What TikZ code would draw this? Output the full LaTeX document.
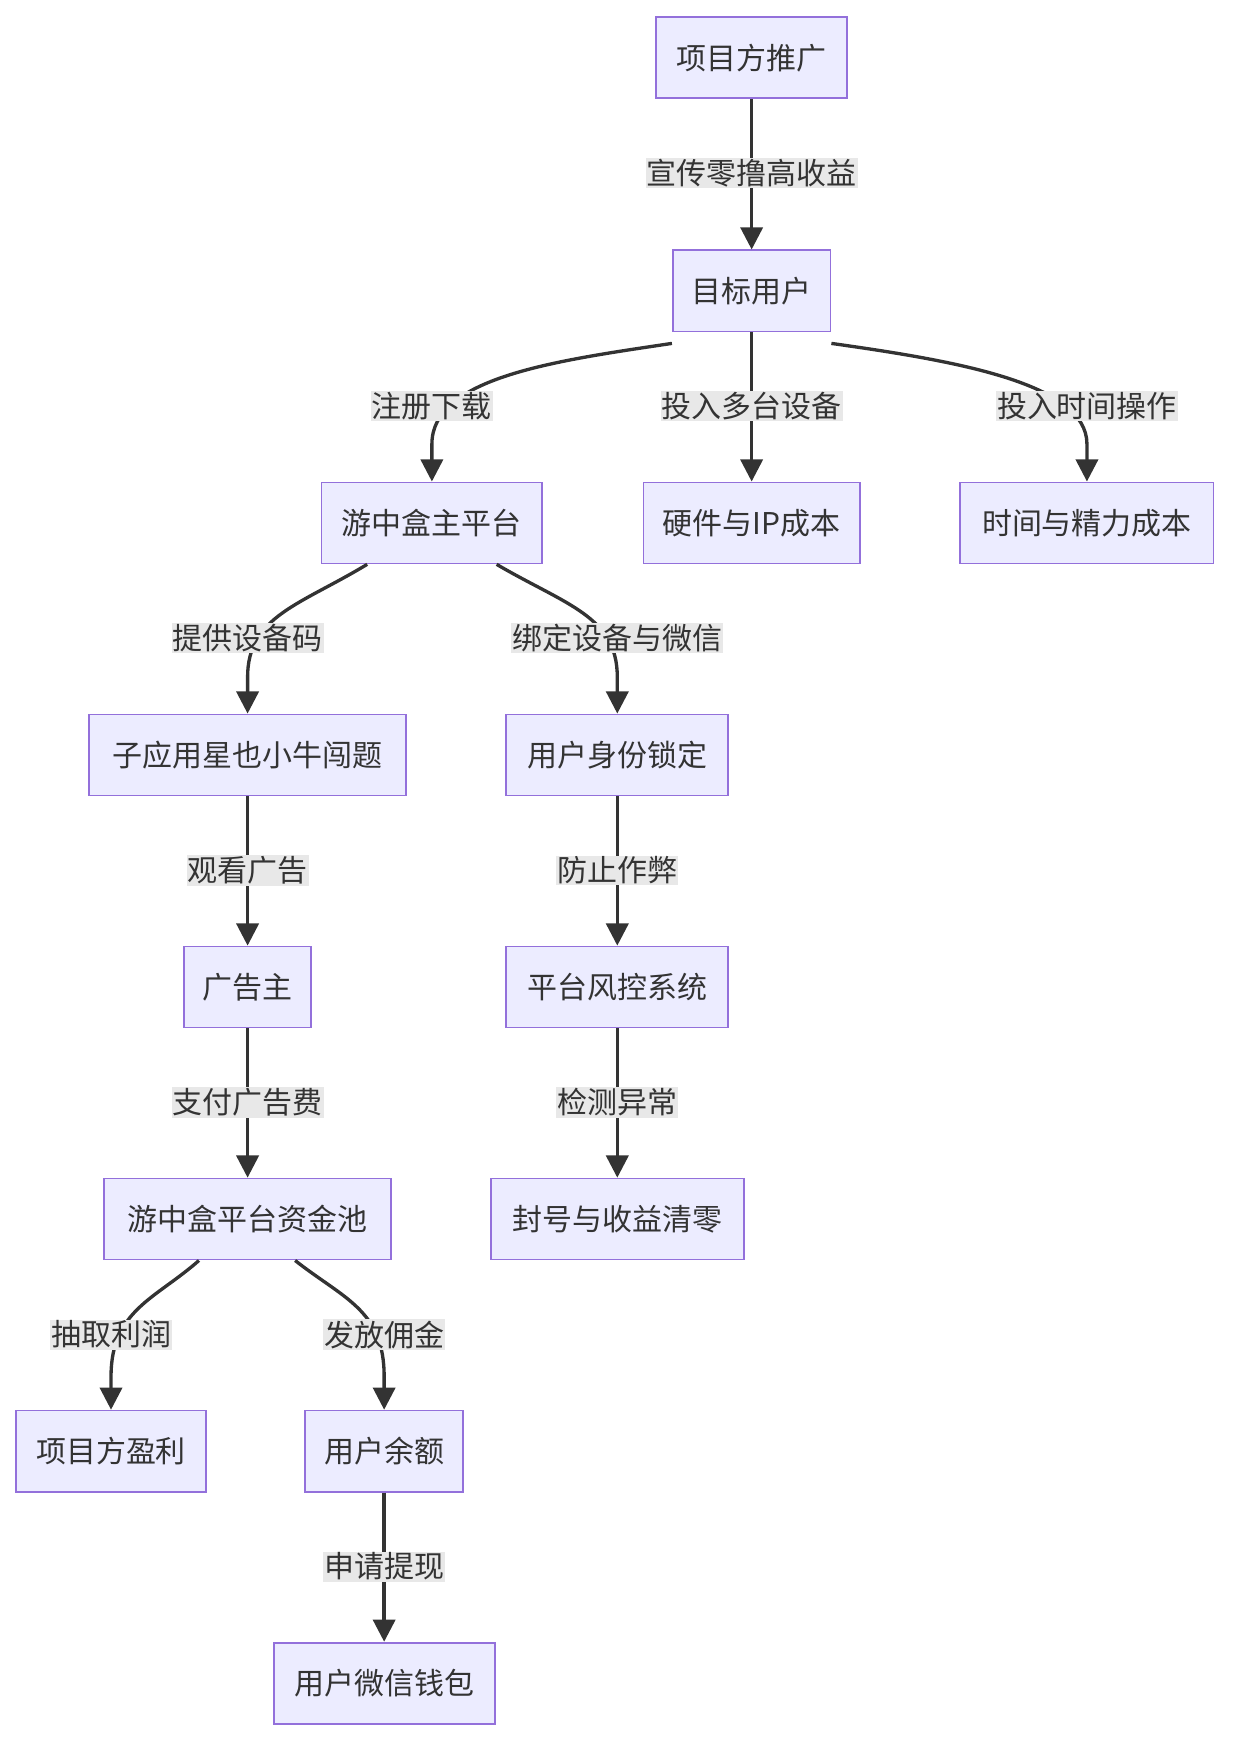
\documentclass[tikz,border=0pt]{standalone}
\usepackage{fontspec}
\setmainfont{Noto Sans CJK SC}
\usetikzlibrary{arrows.meta}
\definecolor{nfill}{HTML}{ECECFF}
\definecolor{nborder}{HTML}{9370DB}
\definecolor{lbg}{HTML}{E8E8E8}
\definecolor{ln}{HTML}{333333}
\begin{document}
\begin{tikzpicture}[x=1pt,y=-1pt,
  box/.style={draw=nborder,fill=nfill,line width=1.6pt,minimum height=73pt,inner sep=0pt,font=\fontsize{27}{30}\selectfont,text=ln},
  lab/.style={fill=lbg,inner sep=1pt,font=\fontsize{27}{30}\selectfont,text=ln},
  arr/.style={draw=ln,line width=3pt,-{Triangle[length=20pt,width=20pt]}}]
\useasboundingbox (0,0) rectangle (1110,1569);
\node[box,minimum width=172pt] (A) at (677,52) {项目方推广};
\node[box,minimum width=142pt] (B) at (677,262) {目标用户};
\node[box,minimum width=199pt] (C) at (389,471) {游中盒主平台};
\node[box,minimum width=195pt] (D) at (677,471) {硬件与IP成本};
\node[box,minimum width=228pt] (E) at (979,471) {时间与精力成本};
\node[box,minimum width=286pt] (F) at (223,680) {子应用星也小牛闯题};
\node[box,minimum width=200pt] (G) at (556,680) {用户身份锁定};
\node[box,minimum width=114pt] (H) at (223,889) {广告主};
\node[box,minimum width=200pt] (I) at (556,889) {平台风控系统};
\node[box,minimum width=258pt] (J) at (223,1098) {游中盒平台资金池};
\node[box,minimum width=228pt] (K) at (556,1098) {封号与收益清零};
\node[box,minimum width=171pt] (L) at (100,1307) {项目方盈利};
\node[box,minimum width=142pt] (M) at (346,1307) {用户余额};
\node[box,minimum width=199pt] (N) at (346,1516) {用户微信钱包};

\draw[arr] (A) -- (B);
\draw[arr] (B) -- (D);
\draw[arr] (F) -- (H);
\draw[arr] (G) -- (I);
\draw[arr] (H) -- (J);
\draw[arr] (I) -- (K);
\draw[arr] (M) -- (N);
\draw[arr] ([yshift=-10pt]B.south west) .. controls (500,325) and (389,340) .. (389,400) -- (C.north);
\draw[arr] ([yshift=-10pt]B.south east) .. controls (860,325) and (979,345) .. (979,400) -- (E.north);
\draw[arr] ([xshift=42pt]C.south west) .. controls (270,545) and (223,555) .. (223,610) -- (F.north);
\draw[arr] ([xshift=-42pt]C.south east) .. controls (510,545) and (556,555) .. (556,610) -- (G.north);
\draw[arr] ([xshift=86pt]J.south west) .. controls (140,1170) and (100,1180) .. (100,1240) -- (L.north);
\draw[arr] ([xshift=-87pt]J.south east) .. controls (310,1170) and (346,1180) .. (346,1240) -- (M.north);

\node[lab] (l1) at (677,156) {宣传零撸高收益};
\node[lab] (l2) at (389,366) {注册下载};
\node[lab] (l3) at (677,366) {投入多台设备};
\node[lab] (l4) at (979,366) {投入时间操作};
\node[lab] (l5) at (223,575) {提供设备码};
\node[lab] (l6) at (556,575) {绑定设备与微信};
\node[lab] (l7) at (223,784) {观看广告};
\node[lab] (l8) at (556,784) {防止作弊};
\node[lab] (l9) at (223,993) {支付广告费};
\node[lab] (l10) at (556,993) {检测异常};
\node[lab] (l11) at (100,1202) {抽取利润};
\node[lab] (l12) at (346,1202) {发放佣金};
\node[lab] (l13) at (346,1411) {申请提现};
\end{tikzpicture}
\end{document}
